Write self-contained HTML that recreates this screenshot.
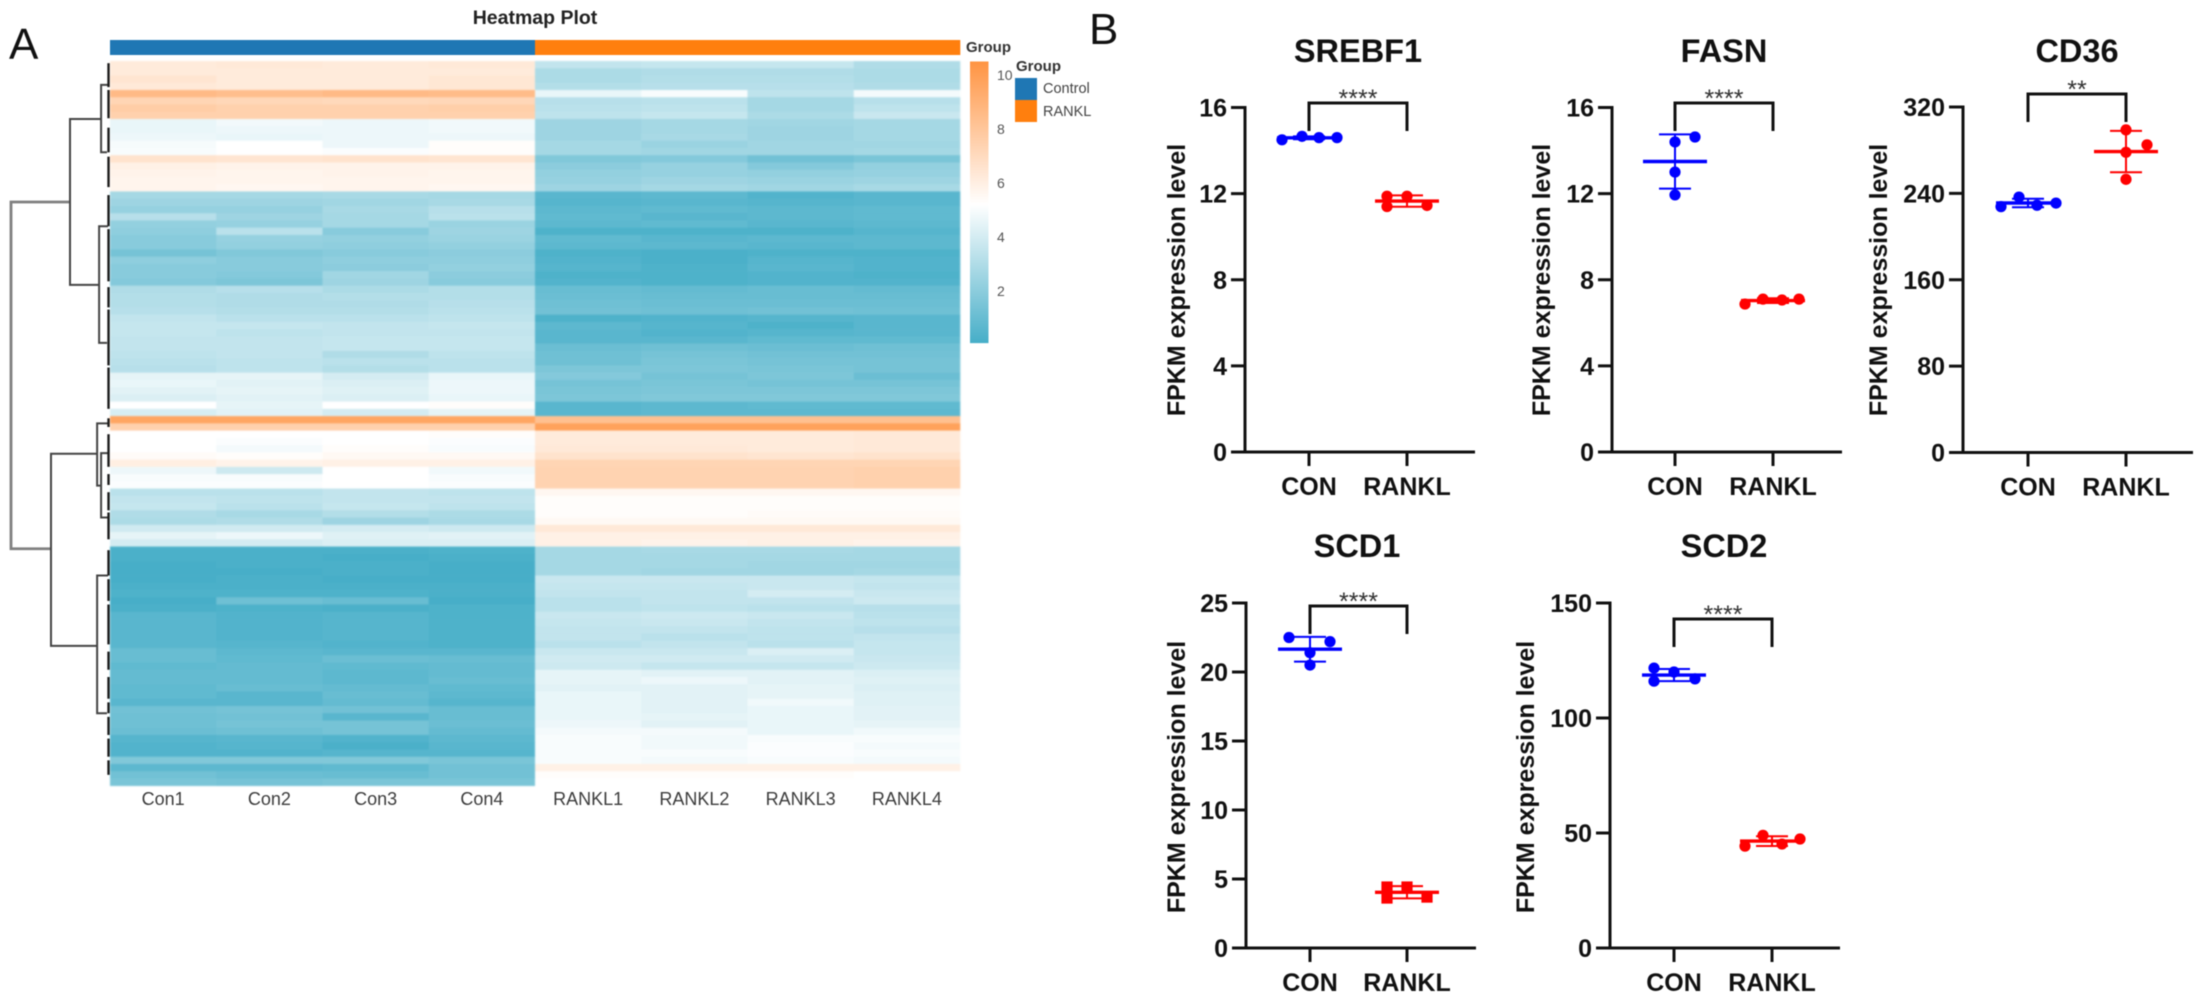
<!DOCTYPE html>
<html lang="en">
<head>
<meta charset="utf-8">
<title>Heatmap Plot and FPKM expression panels</title>
<style>
html,body{margin:0;padding:0;background:#fff;width:2203px;height:1001px;overflow:hidden}
svg{display:block;filter:blur(.45px)}
text{font-family:"Liberation Sans",Arial,sans-serif}
#heatmap-cells{filter:blur(.7px)}
</style>
</head>
<body>
<svg id="figure" xmlns="http://www.w3.org/2000/svg" width="2203" height="1001" viewBox="0 0 2203 1001">
  <rect x="0" y="0" width="2203" height="1001" fill="#fff"/>
  <text x="9" y="59" font-size="44" fill="#111">A</text>
  <text x="1089" y="44" font-size="44" fill="#111">B</text>
  <text x="535" y="24" font-size="19.5" font-weight="700" text-anchor="middle" fill="#222">Heatmap Plot</text>
  <text x="966" y="52" font-size="15" font-weight="700" fill="#333">Group</text>
  <text x="1016" y="71" font-size="15" font-weight="700" fill="#333">Group</text>
  <rect x="1015" y="78" width="22" height="22" fill="#1f77b4"/>
  <rect x="1015" y="100" width="22" height="22" fill="#ff7f0e"/>
  <text x="1043" y="93" font-size="14.5" fill="#444">Control</text>
  <text x="1043" y="116" font-size="14.5" fill="#444">RANKL</text>
  <g id="heatmap">
    <g id="heatmap-cells"></g>
  </g>
  <g id="dendrogram"></g>
  <g id="colorbar"></g>
  <g id="charts"></g>
</svg>
<script>
// ---------- Heatmap data ----------
const sampleLabels = ['Con1','Con2','Con3','Con4','RANKL1','RANKL2','RANKL3','RANKL4'];
const sampleGroups = ['Control','Control','Control','Control','RANKL','RANKL','RANKL','RANKL'];
const colorbarTicks = [10,8,6,4,2];
const heatmapValues = [
[6.2,6.3,6.2,6.3,3.5,3.6,3.6,3.0],
[6.2,6.2,6.2,6.2,2.9,3.0,3.0,2.9],
[6.5,6.2,6.2,6.4,2.9,3.1,3.1,2.9],
[6.3,6.2,6.2,6.4,3.1,3.2,3.2,3.0],
[8.6,8.4,8.6,8.5,4.6,5.0,3.4,4.9],
[7.3,7.2,7.1,7.2,3.2,3.3,2.7,3.2],
[7.7,7.5,7.5,7.6,3.3,3.4,2.7,3.4],
[7.5,7.5,7.5,7.5,3.4,3.6,2.9,3.7],
[4.6,4.85,4.7,4.8,2.5,2.7,2.6,2.7],
[4.6,4.7,4.7,4.8,2.5,2.7,2.5,2.7],
[4.7,4.6,4.7,4.7,2.5,2.8,2.5,2.7],
[4.95,5.2,4.7,5.3,2.7,2.4,2.6,2.6],
[5.0,5.2,5.1,5.3,2.7,2.6,2.6,2.7],
[6.6,6.5,6.6,6.5,1.7,1.8,1.3,1.5],
[5.9,5.8,5.8,5.8,2.0,2.3,1.8,2.2],
[5.8,5.7,5.8,5.7,2.2,2.3,2.2,2.3],
[5.7,5.7,5.7,5.7,2.3,2.5,2.4,2.5],
[5.7,5.6,5.7,5.6,2.5,2.7,2.6,2.8],
[2.7,2.7,2.8,2.7,.6,.7,.4,.6],
[2.5,2.5,2.6,2.8,.5,.6,.5,.6],
[2.3,2.3,2.8,3.2,.7,.8,.7,.8],
[3.2,2.5,2.7,3.3,.8,.6,.7,.8],
[2.2,2.3,2.7,2.4,.7,.8,.6,.7],
[2.1,3.3,1.9,2.5,.3,.3,.3,.5],
[1.9,2.3,2.2,2.4,.8,.6,.7,.7],
[1.9,2.2,2.1,2.2,.7,.7,.6,.7],
[1.4,1.7,1.9,2.0,.3,.2,.3,.3],
[2.1,1.9,2.1,2.1,.4,.2,.5,.4],
[1.9,1.9,2.0,2.2,.5,.3,.6,.4],
[1.9,1.8,2.6,2.0,.3,.3,.4,.3],
[1.8,1.6,2.5,1.9,.4,.3,.4,.4],
[3.0,3.2,2.9,3.1,1.0,.9,1.0,.9],
[3.1,3.0,3.1,3.1,1.1,1.0,1.0,1.0],
[3.1,3.0,3.0,3.2,1.2,1.1,1.1,1.1],
[3.2,3.1,3.1,3.3,1.3,1.2,1.3,1.2],
[3.5,3.3,3.3,3.4,.3,.4,.5,.6],
[3.6,3.6,3.5,3.6,.7,.5,.3,.6],
[3.6,3.4,3.5,3.5,.6,.4,.5,.6],
[3.5,3.5,3.6,3.6,.6,.6,.8,.8],
[3.5,3.5,3.6,3.6,1.1,1.2,1.1,1.2],
[3.4,3.5,3.0,3.4,1.2,1.4,1.3,1.3],
[3.3,3.4,3.3,3.3,1.2,1.5,1.4,1.4],
[3.2,3.4,3.1,3.3,1.6,1.6,1.5,1.4],
[4.5,4.5,4.0,4.6,1.8,1.4,1.6,1.1],
[4.6,4.4,4.2,4.7,1.4,1.5,1.4,1.4],
[4.4,4.5,4.3,4.7,1.5,1.6,1.6,1.6],
[4.2,4.4,4.2,4.6,1.6,1.7,1.7,1.7],
[5.2,4.5,5.2,5.3,.6,.7,.8,.8],
[4.1,4.4,4.0,4.5,.6,.7,.7,.7],
[9.6,9.6,9.6,9.6,8.3,8.3,8.3,8.3],
[7.5,7.5,7.5,7.5,9.8,9.8,9.8,9.8],
[5.2,5.2,5.2,5.3,6.2,6.2,6.2,6.3],
[5.2,5.1,5.2,5.1,6.2,6.2,6.2,6.3],
[5.2,4.9,5.3,5.0,6.3,6.3,6.2,6.3],
[5.4,5.3,5.5,5.5,6.6,6.6,6.5,6.6],
[6.0,5.8,5.9,5.9,7.3,7.3,7.3,7.3],
[4.7,3.8,5.2,4.8,7.4,7.4,7.4,7.5],
[5.0,5.0,5.2,5.0,7.4,7.4,7.4,7.5],
[5.1,5.1,5.2,5.1,7.4,7.4,7.4,7.5],
[3.3,3.3,3.5,3.4,5.6,5.6,5.6,5.6],
[3.5,3.4,3.5,3.5,5.3,5.3,5.3,5.3],
[3.6,3.3,3.6,3.4,5.3,5.3,5.3,5.3],
[3.0,2.8,3.1,2.9,5.3,5.3,5.4,5.4],
[2.9,3.0,2.5,2.8,5.5,5.5,5.5,5.5],
[3.9,3.9,4.0,3.8,6.3,6.3,6.3,6.3],
[4.5,4.7,4.3,4.4,5.9,5.9,5.9,5.9],
[4.0,4.0,4.2,4.2,5.9,5.8,5.9,5.8],
[.2,.2,.2,.3,2.7,2.8,2.8,2.7],
[.2,.2,.1,.2,2.7,2.7,2.7,2.7],
[.1,.2,.2,.1,2.7,2.7,2.6,2.6],
[.1,.1,.2,.1,2.7,2.6,2.6,2.7],
[.1,.2,.1,.1,3.7,3.7,3.7,3.6],
[.2,.2,.2,.2,3.6,3.6,3.7,3.5],
[.3,.3,.3,.2,3.5,3.5,4.0,3.7],
[.1,1.2,1.0,.1,3.3,3.5,3.5,3.8],
[.2,.3,.2,.3,3.3,3.4,3.3,3.2],
[.6,.4,.5,.3,3.7,3.8,3.7,3.3],
[.6,.4,.5,.3,3.6,3.7,3.5,3.4],
[.6,.4,.5,.3,3.5,3.5,3.4,3.2],
[.6,.4,.5,.3,3.5,3.3,3.4,3.5],
[.6,.5,.4,.3,3.3,3.5,3.3,3.6],
[1.0,.7,.6,.6,3.7,3.7,4.2,3.6],
[1.0,.8,1.1,1.0,3.9,3.9,3.9,3.7],
[.8,.9,.8,.9,3.8,3.6,3.6,3.8],
[.9,.9,.7,.9,4.5,4.4,4.4,4.2],
[.9,.9,.7,1.0,4.5,4.7,4.4,4.3],
[.8,1.0,.9,.8,4.4,4.4,4.5,4.2],
[.8,.6,1.0,.7,4.6,4.4,4.5,4.3],
[.6,.6,.9,.5,4.6,4.4,4.8,4.3],
[1.3,1.4,1.3,1.0,4.6,4.4,4.6,4.4],
[1.2,1.3,.6,1.0,4.6,4.5,4.6,4.4],
[1.2,1.4,1.4,1.1,4.7,4.4,4.6,4.5],
[1.1,1.2,1.4,.9,4.9,4.9,4.6,4.8],
[.5,.6,.4,.7,5.0,4.8,5.0,5.0],
[.4,.5,.2,.6,5.0,4.8,5.1,4.9],
[.4,.4,.5,.5,5.0,5.0,5.1,5.0],
[1.7,1.7,1.7,1.5,5.0,4.9,5.0,4.9],
[.7,.7,.8,1.3,5.9,5.9,5.9,5.9],
[1.3,1.1,1.0,1.3,5.3,5.3,5.3,5.2],
[1.5,1.4,1.5,1.5,5.2,5.2,5.2,5.2]
];

// ---------- Dendrogram data, in row units and relative heights ----------
const mergeHeights = [1.0,0.404,0.09,0.11,0.596,0.13,0.09,0.13];
const mergeRowsA = [19.46,8.0,3.3,22.8,54.2,50,54.1,71];
const mergeRowsB = [67.3,30.9,12.6,38.9,80.7,58.6,63,90];
const childHeightsA = [0.404,0.09,0.02,0.02,0.13,0.02,0.02,0.02];
const childHeightsB = [0.596,0.11,0.03,0.03,0.13,0.09,0.02,0.03];
const leafSpanStarts = [0.3,4,9.2,13.2,18.5,23.2,31.2,34.3,42.3,49.3,51.5,57,59.5,62.3,67.5,71.5,75,81.5,85,88.5,90.5,93.5,96.5];
const leafSpanEnds = [3.6,7.9,12.6,17.4,22.8,30.4,34,42,48,50.5,56,58.5,62,66,71,74.5,80.5,84,88,90,93,96,98.5];

// ---------- Dot plot data ----------
const groupLabels = ['CON','RANKL'];

const srebf1Ticks = [0,4,8,12,16];
const srebf1Con = [14.5,14.66,14.6,14.6];
const srebf1Rankl = [11.88,11.4,11.88,11.45];
const srebf1ConSlots = [-1.35,-0.35,0.5,1.4];
const srebf1RanklSlots = [-1,-1,0,1];

const fasnTicks = [0,4,8,12,16];
const fasnCon = [14.4,14.63,13.0,11.94];
const fasnRankl = [6.87,7.1,7.06,7.1];
const fasnConSlots = [0,1,0,0];
const fasnRanklSlots = [-1.4,-0.5,0.45,1.3];

const cd36Ticks = [0,80,160,240,320];
const cd36Con = [227.7,236.6,229,231];
const cd36Rankl = [298.8,278,253,285];
const cd36ConSlots = [-1.35,-0.45,0.45,1.4];
const cd36RanklSlots = [0,0,0,1.05];

const scd1Ticks = [0,5,10,15,20,25];
const scd1Con = [22.5,22.2,21.4,20.5];
const scd1Rankl = [4.42,3.62,4.42,3.69];
const scd1ConSlots = [-1.05,1,0,0];
const scd1RanklSlots = [-1,-1,0,1];

const scd2Ticks = [0,50,100,150];
const scd2Con = [121.7,116,120,117];
const scd2Rankl = [44.3,49,45.2,47.4];
const scd2ConSlots = [-1,-1,0,1.05];
const scd2RanklSlots = [-1.35,-0.45,0.5,1.4];

// ---------- Helpers ----------
const NS = 'http://www.w3.org/2000/svg';
function mk(tag, attrs, parent) {
  const el = document.createElementNS(NS, tag);
  for (const k in attrs) el.setAttribute(k, attrs[k]);
  parent.appendChild(el);
  return el;
}
function linScale(d0, d1, r0, r1) {
  return v => r0 + (v - d0) * (r1 - r0) / (d1 - d0);
}

// ---------- Heatmap ----------
const HM = {left:110, right:960, top:61, bottom:785.7, barTop:40, barBottom:55};
const colorLow = [70,174,200], colorMid = [255,255,255], colorHigh = [255,148,66];
const colorMinV = 0.07, colorMidV = 5.2, colorMaxV = 10.5;
function colorFor(v) {
  const a = v < colorMidV ? colorLow : colorHigh;
  let t = v < colorMidV ? (colorMidV - v) / (colorMidV - colorMinV) : (v - colorMidV) / (colorMaxV - colorMidV);
  t = Math.max(0, Math.min(1, t));
  const c = colorMid.map((m, i) => Math.round(m + (a[i] - m) * t));
  return 'rgb(' + c.join(',') + ')';
}
const heatmapGroup = document.getElementById('heatmap');
const cellsGroup = document.getElementById('heatmap-cells');
const colX = linScale(0, sampleLabels.length, HM.left, HM.right);
const rowY = linScale(0, heatmapValues.length, HM.top, HM.bottom);
heatmapValues.forEach((row, r) => {
  row.forEach((v, c) => {
    const cell = mk('rect', {x: colX(c), y: rowY(r), width: colX(c + 1) - colX(c) + 0.3, height: rowY(r + 1) - rowY(r) + 0.3, fill: colorFor(v)}, cellsGroup);
    
    
  });
});
sampleLabels.forEach((label, c) => {
  const bar = mk('rect', {x: colX(c), y: HM.barTop, width: colX(c + 1) - colX(c) + 0.3, height: HM.barBottom - HM.barTop, fill: sampleGroups[c] === 'Control' ? '#1f77b4' : '#ff7f0e'}, heatmapGroup);
  
  
  const t = mk('text', {x: (colX(c) + colX(c + 1)) / 2, y: 805, 'font-size': 18, 'text-anchor': 'middle', fill: '#3c3c3c'}, heatmapGroup);
  t.textContent = label;
  
  
});

// ---------- Dendrogram ----------
const dendroGroup = document.getElementById('dendrogram');
const heightX = linScale(0, 1, 110, 11);
mergeHeights.forEach((h, i) => {
  const x = heightX(h), ya = rowY(mergeRowsA[i]), yb = rowY(mergeRowsB[i]);
  const d = 'M' + heightX(childHeightsA[i]) + ' ' + ya + 'H' + x + 'V' + yb + 'H' + heightX(childHeightsB[i]);
  const link = mk('path', {d: d, fill: 'none', stroke: i === 0 ? '#808080' : '#444', 'stroke-width': i === 0 ? 2.8 : 2}, dendroGroup);
  
  
});
leafSpanStarts.forEach((s, i) => {
  const x = heightX(0.015);
  const leaf = mk('line', {x1: x, x2: x, y1: rowY(s), y2: rowY(leafSpanEnds[i]), stroke: '#1c1c1c', 'stroke-width': 2.4}, dendroGroup);
  
  
});

// ---------- Colorbar ----------
const colorbarGroup = document.getElementById('colorbar');
const cbY = linScale(10, 2, 75, 291);
const defs = mk('defs', {}, colorbarGroup);
const grad = mk('linearGradient', {id: 'colorbarGradient', x1: 0, y1: 0, x2: 0, y2: 1}, defs);
[colorMaxV, colorMidV, colorMinV].forEach(v => {
  mk('stop', {offset: (cbY(v) - cbY(colorMaxV)) / (cbY(colorMinV) - cbY(colorMaxV)), 'stop-color': colorFor(v)}, grad);
});
const cbRect = mk('rect', {x: 970, y: cbY(colorMaxV), width: 18.5, height: cbY(colorMinV) - cbY(colorMaxV), fill: 'url(#colorbarGradient)'}, colorbarGroup);


colorbarTicks.forEach(v => {
  const t = mk('text', {x: 997, y: cbY(v) + 5, 'font-size': 14, fill: '#555'}, colorbarGroup);
  t.textContent = v;
  
  
});

// ---------- Dot plots ----------
const panels = [
  {id:'srebf1', title:'SREBF1', ticks:srebf1Ticks, con:srebf1Con, rankl:srebf1Rankl, conSlots:srebf1ConSlots, ranklSlots:srebf1RanklSlots, stars:'****', axisX:1245, top:107.5, bottom:452, tickA:64, tickB:162, bracketY:103, titleY:62, titleX:113, yTitleDx:60, yTitleCy:280},
  {id:'fasn', title:'FASN', ticks:fasnTicks, con:fasnCon, rankl:fasnRankl, conSlots:fasnConSlots, ranklSlots:fasnRanklSlots, stars:'****', axisX:1612, top:107.5, bottom:452, tickA:63, tickB:161, bracketY:103, titleY:62, titleX:112, yTitleDx:62, yTitleCy:280},
  {id:'cd36', title:'CD36', ticks:cd36Ticks, con:cd36Con, rankl:cd36Rankl, conSlots:cd36ConSlots, ranklSlots:cd36RanklSlots, stars:'**', axisX:1963, top:107, bottom:452.5, tickA:65, tickB:163, bracketY:94, titleY:62, titleX:114, yTitleDx:76, yTitleCy:280},
  {id:'scd1', title:'SCD1', ticks:scd1Ticks, con:scd1Con, rankl:scd1Rankl, conSlots:scd1ConSlots, ranklSlots:scd1RanklSlots, stars:'****', axisX:1246, top:603, bottom:948, tickA:64, tickB:161, bracketY:606, titleY:557, titleX:111, yTitleDx:61, yTitleCy:777, ranklSquare:true},
  {id:'scd2', title:'SCD2', ticks:scd2Ticks, con:scd2Con, rankl:scd2Rankl, conSlots:scd2ConSlots, ranklSlots:scd2RanklSlots, stars:'****', axisX:1610, top:603, bottom:948, tickA:64, tickB:162, bracketY:619, titleY:557, titleX:114, yTitleDx:76, yTitleCy:777}
];
const chartsGroup = document.getElementById('charts');
const slotWidth = 20, meanHalf = 32, capHalf = 16, pointR = 5.6;

function mean(a) { return a.reduce((s, v) => s + v, 0) / a.length; }
function sd(a) {
  const m = mean(a);
  return Math.sqrt(a.reduce((s, v) => s + (v - m) * (v - m), 0) / (a.length - 1));
}

function drawGroup(g, values, slots, cx, y, color, square) {
  const m = mean(values), s = sd(values);
  const errorBar = mk('path', {d: 'M' + (cx - capHalf) + ' ' + y(m + s) + 'H' + (cx + capHalf) + 'M' + cx + ' ' + y(m + s) + 'V' + y(m - s) + 'M' + (cx - capHalf) + ' ' + y(m - s) + 'H' + (cx + capHalf), fill: 'none', stroke: color, 'stroke-width': 2}, g);
  
  
  const meanLine = mk('line', {x1: cx - meanHalf, x2: cx + meanHalf, y1: y(m), y2: y(m), stroke: color, 'stroke-width': 3.4}, g);
  
  
  values.forEach((v, i) => {
    const px = cx + slots[i] * slotWidth;
    const point = square
      ? mk('rect', {x: px - pointR, y: y(v) - pointR, width: 2 * pointR, height: 2 * pointR, fill: color}, g)
      : mk('circle', {cx: px, cy: y(v), r: pointR, fill: color}, g);
    
    
  });
}

panels.forEach(p => {
  const g = mk('g', {}, chartsGroup);
  
  
  const maxTick = p.ticks[p.ticks.length - 1];
  const y = linScale(0, maxTick, p.bottom, p.top);
  const xA = p.axisX + p.tickA, xB = p.axisX + p.tickB, xs = [xA, xB];

  const title = mk('text', {x: p.axisX + p.titleX, y: p.titleY, 'font-size': 32.5, 'font-weight': 700, 'text-anchor': 'middle', fill: '#111'}, g);
  title.textContent = p.title;
  
  

  const yTitle = mk('text', {transform: 'translate(' + (p.axisX - p.yTitleDx) + ' ' + p.yTitleCy + ') rotate(-90)', 'font-size': 25, 'font-weight': 700, 'text-anchor': 'middle', fill: '#111'}, g);
  yTitle.textContent = 'FPKM expression level';
  
  

  const yAxis = mk('line', {x1: p.axisX, x2: p.axisX, y1: p.top - 1.5, y2: p.bottom + 1.5, stroke: '#111', 'stroke-width': 3}, g);
  
  
  const xAxis = mk('line', {x1: p.axisX, x2: p.axisX + 230, y1: p.bottom, y2: p.bottom, stroke: '#111', 'stroke-width': 3}, g);
  
  

  p.ticks.forEach(v => {
    const tick = mk('line', {x1: p.axisX - 14, x2: p.axisX, y1: y(v), y2: y(v), stroke: '#111', 'stroke-width': 3}, g);
    
    
    const label = mk('text', {x: p.axisX - 18, y: y(v) + 9, 'font-size': 25, 'font-weight': 700, 'text-anchor': 'end', fill: '#111'}, g);
    label.textContent = v;
    
    
  });
  groupLabels.forEach((name, i) => {
    const tick = mk('line', {x1: xs[i], x2: xs[i], y1: p.bottom, y2: p.bottom + 14, stroke: '#111', 'stroke-width': 3}, g);
    
    
    const label = mk('text', {x: xs[i], y: p.bottom + 43, 'font-size': 25, 'font-weight': 700, 'text-anchor': 'middle', fill: '#111'}, g);
    label.textContent = name;
    
    
  });

  const bracket = mk('path', {d: 'M' + xA + ' ' + (p.bracketY + 28) + 'V' + p.bracketY + 'H' + xB + 'V' + (p.bracketY + 28), fill: 'none', stroke: '#111', 'stroke-width': 3}, g);
  
  
  const stars = mk('text', {x: (xA + xB) / 2, y: p.bracketY + 4, 'font-size': 25, 'text-anchor': 'middle', fill: '#333'}, g);
  stars.textContent = p.stars;
  
  

  drawGroup(g, p.con, p.conSlots, xA, y, '#0000ff', false);
  drawGroup(g, p.rankl, p.ranklSlots, xB, y, '#ff0000', !!p.ranklSquare);
});
</script>
</body>
</html>
